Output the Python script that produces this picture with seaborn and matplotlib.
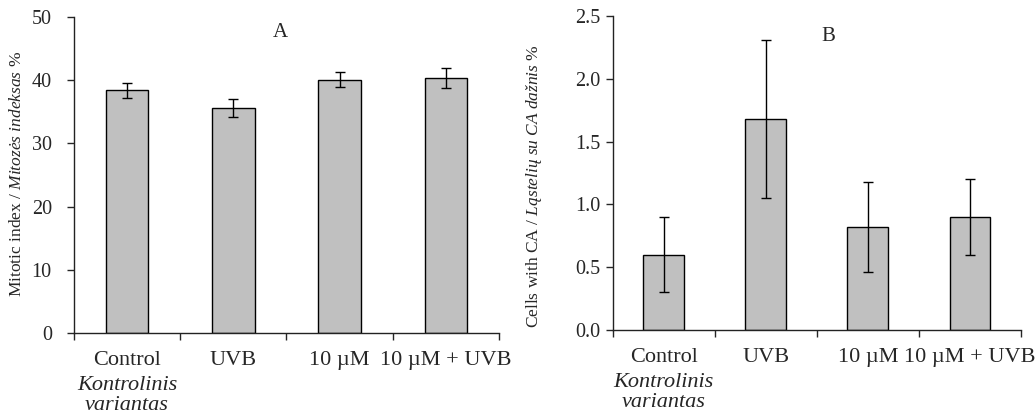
import matplotlib
matplotlib.use("Agg")
import matplotlib.pyplot as plt
import seaborn as sns
import pandas as pd

### data
groups = ["Control", "UVB", "10 µM", "10 µM + UVB"]
mitotic_index = [38.4, 35.6, 40.1, 40.4]
mitotic_err = [1.2, 1.45, 1.2, 1.6]
ca_cells = [0.60, 1.68, 0.82, 0.90]
ca_err = [0.30, 0.63, 0.36, 0.30]

sns.set_theme(style="ticks")
plt.rcParams["font.family"] = ["Liberation Serif", "DejaVu Serif"]
plt.rcParams["mathtext.fontset"] = "custom"
plt.rcParams["mathtext.rm"] = "Liberation Serif"
plt.rcParams["mathtext.it"] = "Liberation Serif:italic"

fig = plt.figure(figsize=(10.35, 4.15), dpi=100)
axA = fig.add_axes([0.0715, 0.1976, 0.4105, 0.7614])
axB = fig.add_axes([0.592, 0.205, 0.3945, 0.756])


def draw_panel(ax, values, errs, ylim, yticks, yfmt, ylabel, label_xy, letter, letter_xy, ypad):
    df = pd.DataFrame({"group": groups, "value": values})
    sns.barplot(data=df, x="group", y="value", order=groups, color="#c0c0c0",
                saturation=1, width=0.4, edgecolor="black", linewidth=1.0,
                errorbar=None, ax=ax)
    ax.errorbar(range(len(groups)), values, yerr=errs, fmt="none",
                ecolor="black", elinewidth=1.0, capsize=3.5, capthick=1.0)
    ax.set_xlim(-0.5, len(groups) - 0.5)
    ax.set_ylim(*ylim)
    ax.set_yticks(yticks)
    ax.set_yticklabels([yfmt.format(v) for v in yticks])
    ax.set_xticks(range(len(groups)))
    ax.set_xticklabels(groups)
    ax.set_xticks([i - 0.5 for i in range(len(groups) + 1)], minor=True)
    ax.tick_params(axis="x", which="major", length=0, pad=13, labelsize=16)
    ax.tick_params(axis="x", which="minor", length=5, width=1.0, direction="out")
    ax.tick_params(axis="y", length=5, width=1.0, pad=ypad, labelsize=14.5)
    ax.set_xlabel("")
    ax.set_ylabel(ylabel, fontsize=12.5)
    ax.yaxis.set_label_coords(*label_xy)
    for s in ["top", "right"]:
        ax.spines[s].set_visible(False)
    for s in ["left", "bottom"]:
        ax.spines[s].set_linewidth(1.0)
        ax.spines[s].set_color("#222222")
    ax.text(letter_xy[0], letter_xy[1], letter, transform=ax.transAxes,
            ha="center", va="center", fontsize=15)
    # italic Lithuanian part of the control label
    ax.annotate("Kontrolinis\nvariantas", xy=(0, 0), xycoords=("data", "axes fraction"),
                xytext=(0, -31), textcoords="offset points", ha="center", va="top",
                fontsize=16, style="italic", linespacing=1.05, annotation_clip=False)


draw_panel(axA, mitotic_index, mitotic_err, (0, 50), [0, 10, 20, 30, 40, 50], "{:.0f}",
           "Mitotic index / $\\it{Mitozės\\ indeksas}$ %", (-0.115, 0.503),
           "A", (0.485, 0.95), 11)
draw_panel(axB, ca_cells, ca_err, (0, 2.5), [0, 0.5, 1.0, 1.5, 2.0, 2.5], "{:.1f}",
           "Cells with CA / $\\it{Ląstelių\\ su\\ CA\\ dažnis}$ %", (-0.168, 0.46),
           "B", (0.527, 0.934), 4)

fig.savefig("out.png", dpi=100)
